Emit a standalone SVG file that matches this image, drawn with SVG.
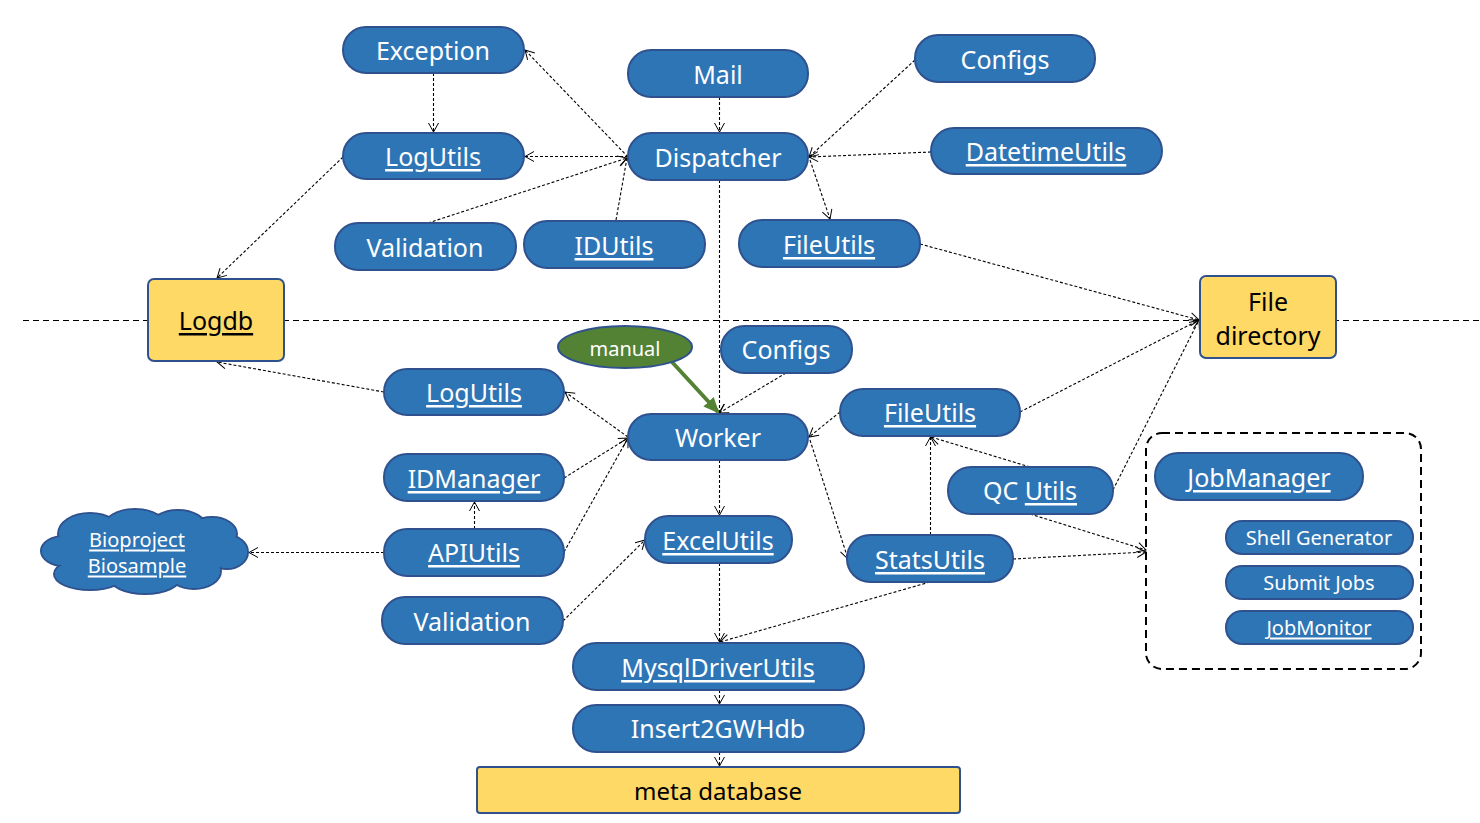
<svg xmlns="http://www.w3.org/2000/svg" width="1480" height="823" viewBox="0 0 1480 823">
<style>
.pill{fill:#2E75B6;stroke:#2F528F;stroke-width:2}
.box{fill:#FFD966;stroke:#2F528F;stroke-width:2}
.t{font-family:"Noto Sans","Open Sans",sans-serif;font-size:25px;fill:#fff;text-anchor:middle;dominant-baseline:central}
.s{font-size:20px}
.d{fill:#000}
.u{text-decoration:underline}
.c{fill:none;stroke:#000;stroke-width:1.1;stroke-dasharray:3,2;marker-end:url(#arr)}
.cl{fill:#2E75B6;stroke:#2F528F;stroke-width:2}
.cf{fill:#2E75B6;stroke:none}
</style>
<defs>
<marker id="arr" markerUnits="userSpaceOnUse" markerWidth="12" markerHeight="12" refX="10" refY="6" orient="auto">
<path d="M1,1 L10,6 L1,11" fill="none" stroke="#000" stroke-width="1"/>
</marker>
<marker id="garr" markerUnits="userSpaceOnUse" markerWidth="16" markerHeight="14" refX="14" refY="7" orient="auto">
<path d="M0,0 L16,7 L0,14 Z" fill="#548235"/>
</marker>
</defs>
<rect width="1480" height="823" fill="#fff"/>
<line x1="23" y1="320.5" x2="1480" y2="320.5" stroke="#000" stroke-width="1" stroke-dasharray="6,4"/>
<g id="connectors">
<path class="c" d="M433.5,73 L433.5,132"/>
<path class="c" d="M628,157 L525,50"/>
<path class="c" d="M628,156.5 L525,156.5"/>
<path class="c" d="M428,223 L627,158"/>
<path class="c" d="M616,220 L627,158"/>
<path class="c" d="M719.5,97 L719.5,132"/>
<path class="c" d="M915,60 L809,157"/>
<path class="c" d="M931,152 L809,157"/>
<path class="c" d="M810,160 L830,219"/>
<path class="c" d="M719.5,180 L719.5,413"/>
<path class="c" d="M920,244 L1199,320"/>
<path class="c" d="M343,157 L217,278"/>
<path class="c" d="M384,392 L217,362"/>
<path class="c" d="M628,437 L565,392"/>
<path class="c" d="M564,478 L628,438"/>
<path class="c" d="M564,552 L628,438"/>
<path class="c" d="M474.5,529 L474.5,502"/>
<path class="c" d="M384,552.5 L249,552.5"/>
<path class="c" d="M786,373 L719,413"/>
<path class="c" d="M840,412 L809,437"/>
<path class="c" d="M810,440 L848,559"/>
<path class="c" d="M719.5,460 L719.5,515"/>
<path class="c" d="M563,621 L645,540"/>
<path class="c" d="M930.5,535 L930.5,437"/>
<path class="c" d="M1030,467 L931,437"/>
<path class="c" d="M1020,412 L1199,320"/>
<path class="c" d="M1113,490 L1199,320"/>
<path class="c" d="M1030,514 L1146,550"/>
<path class="c" d="M1013,559 L1146,552"/>
<path class="c" d="M719.5,563 L719.5,642"/>
<path class="c" d="M930,582 L720,642"/>
<path class="c" d="M719.5,690 L719.5,704"/>
<path class="c" d="M719.5,752 L719.5,766"/>
<path d="M672,362 L718,412" fill="none" stroke="#548235" stroke-width="4" marker-end="url(#garr)"/>
</g>
<g id="n-exception"><rect class="pill" x="343" y="27" width="181" height="46" rx="23"/><text class="t" x="433" y="50">Exception</text></g>
<g id="n-mail"><rect class="pill" x="628" y="50" width="180" height="47" rx="23"/><text class="t" x="718" y="74">Mail</text></g>
<g id="n-configs1"><rect class="pill" x="915" y="35" width="180" height="47" rx="23"/><text class="t" x="1005" y="59">Configs</text></g>
<g id="n-logutils1"><rect class="pill" x="343" y="133" width="181" height="46" rx="23"/><text class="t u" x="433" y="156">LogUtils</text></g>
<g id="n-dispatcher"><rect class="pill" x="628" y="133" width="180" height="47" rx="23"/><text class="t" x="718" y="157">Dispatcher</text></g>
<g id="n-datetime"><rect class="pill" x="931" y="128" width="231" height="46" rx="23"/><text class="t u" x="1046" y="151">DatetimeUtils</text></g>
<g id="n-validation1"><rect class="pill" x="335" y="223" width="181" height="47" rx="23"/><text class="t" x="425" y="247">Validation</text></g>
<g id="n-idutils"><rect class="pill" x="524" y="221" width="181" height="47" rx="23"/><text class="t u" x="614" y="245">IDUtils</text></g>
<g id="n-fileutils1"><rect class="pill" x="739" y="220" width="181" height="47" rx="23"/><text class="t u" x="829" y="244">FileUtils</text></g>
<g id="n-logdb"><rect class="box" x="148" y="279" width="136" height="82" rx="6"/><text class="t d u" x="216" y="320">Logdb</text></g>
<g id="n-filedir"><rect class="box" x="1200" y="276" width="136" height="82" rx="6"/><text class="t d" x="1268" y="301">File</text><text class="t d" x="1268" y="335">directory</text></g>
<g id="n-manual"><ellipse cx="625" cy="347" rx="67" ry="21" fill="#548235" stroke="#2F528F" stroke-width="2"/><text class="t s" x="625" y="348">manual</text></g>
<g id="n-configs2"><rect class="pill" x="721" y="326" width="131" height="47" rx="23"/><text class="t" x="786" y="349">Configs</text></g>
<g id="n-logutils2"><rect class="pill" x="384" y="369" width="180" height="46" rx="23"/><text class="t u" x="474" y="392">LogUtils</text></g>
<g id="n-worker"><rect class="pill" x="628" y="414" width="180" height="46" rx="23"/><text class="t" x="718" y="437">Worker</text></g>
<g id="n-fileutils2"><rect class="pill" x="840" y="389" width="180" height="47" rx="23"/><text class="t u" x="930" y="412">FileUtils</text></g>
<g id="n-idmanager"><rect class="pill" x="384" y="454" width="180" height="47" rx="23"/><text class="t u" x="474" y="478">IDManager</text></g>
<g id="n-qcutils"><rect class="pill" x="948" y="467" width="165" height="47" rx="23"/><text class="t" x="1030" y="490">QC <tspan text-decoration="underline">Utils</tspan></text></g>
<g id="n-jobbox"><rect x="1146" y="433" width="275" height="236" rx="16" fill="none" stroke="#000" stroke-width="2" stroke-dasharray="8,5"/></g>
<g id="n-jobmanager"><rect class="pill" x="1155" y="453" width="208" height="47" rx="23"/><text class="t u" x="1259" y="477">JobManager</text></g>
<g id="n-shellgen"><rect class="pill" x="1226" y="521" width="187" height="33" rx="16"/><text class="t s" x="1319" y="537">Shell Generator</text></g>
<g id="n-submit"><rect class="pill" x="1226" y="566" width="187" height="33" rx="16"/><text class="t s" x="1319" y="582">Submit Jobs</text></g>
<g id="n-jobmonitor"><rect class="pill" x="1226" y="611" width="187" height="33" rx="16"/><text class="t s u" x="1319" y="627">JobMonitor</text></g>
<g id="n-cloud">
<ellipse class="cl" cx="90" cy="534" rx="32" ry="21"/>
<ellipse class="cl" cx="135" cy="528" rx="32" ry="19"/>
<ellipse class="cl" cx="178" cy="527" rx="28" ry="17"/>
<ellipse class="cl" cx="212" cy="534" rx="25" ry="17"/>
<ellipse class="cl" cx="227" cy="552" rx="21" ry="17"/>
<ellipse class="cl" cx="194" cy="571" rx="27" ry="18"/>
<ellipse class="cl" cx="145" cy="577" rx="36" ry="17"/>
<ellipse class="cl" cx="90" cy="574" rx="36" ry="16"/>
<ellipse class="cl" cx="64" cy="551" rx="23" ry="15"/>
<ellipse class="cf" cx="90" cy="534" rx="31" ry="20"/>
<ellipse class="cf" cx="135" cy="528" rx="31" ry="18"/>
<ellipse class="cf" cx="178" cy="527" rx="27" ry="16"/>
<ellipse class="cf" cx="212" cy="534" rx="24" ry="16"/>
<ellipse class="cf" cx="227" cy="552" rx="20" ry="16"/>
<ellipse class="cf" cx="194" cy="571" rx="26" ry="17"/>
<ellipse class="cf" cx="145" cy="577" rx="35" ry="16"/>
<ellipse class="cf" cx="90" cy="574" rx="35" ry="15"/>
<ellipse class="cf" cx="64" cy="551" rx="22" ry="14"/>
<ellipse class="cf" cx="142" cy="552" rx="80" ry="26"/>
<text class="t s u" x="137" y="539">Bioproject</text>
<text class="t s u" x="137" y="565">Biosample</text>
</g>
<g id="n-apiutils"><rect class="pill" x="384" y="529" width="180" height="47" rx="23"/><text class="t u" x="474" y="552">APIUtils</text></g>
<g id="n-excelutils"><rect class="pill" x="645" y="516" width="147" height="47" rx="23"/><text class="t u" x="718" y="540">ExcelUtils</text></g>
<g id="n-statsutils"><rect class="pill" x="847" y="535" width="166" height="47" rx="23"/><text class="t u" x="930" y="559">StatsUtils</text></g>
<g id="n-validation2"><rect class="pill" x="382" y="597" width="181" height="47" rx="23"/><text class="t" x="472" y="621">Validation</text></g>
<g id="n-mysql"><rect class="pill" x="573" y="643" width="291" height="47" rx="23"/><text class="t u" x="718" y="667">MysqlDriverUtils</text></g>
<g id="n-insert"><rect class="pill" x="573" y="705" width="291" height="47" rx="23"/><text class="t" x="718" y="728">Insert2GWHdb</text></g>
<g id="n-meta"><rect class="box" x="477" y="767" width="483" height="46" rx="3"/><text class="t d" x="718" y="790" style="font-size:24px">meta database</text></g>
</svg>
